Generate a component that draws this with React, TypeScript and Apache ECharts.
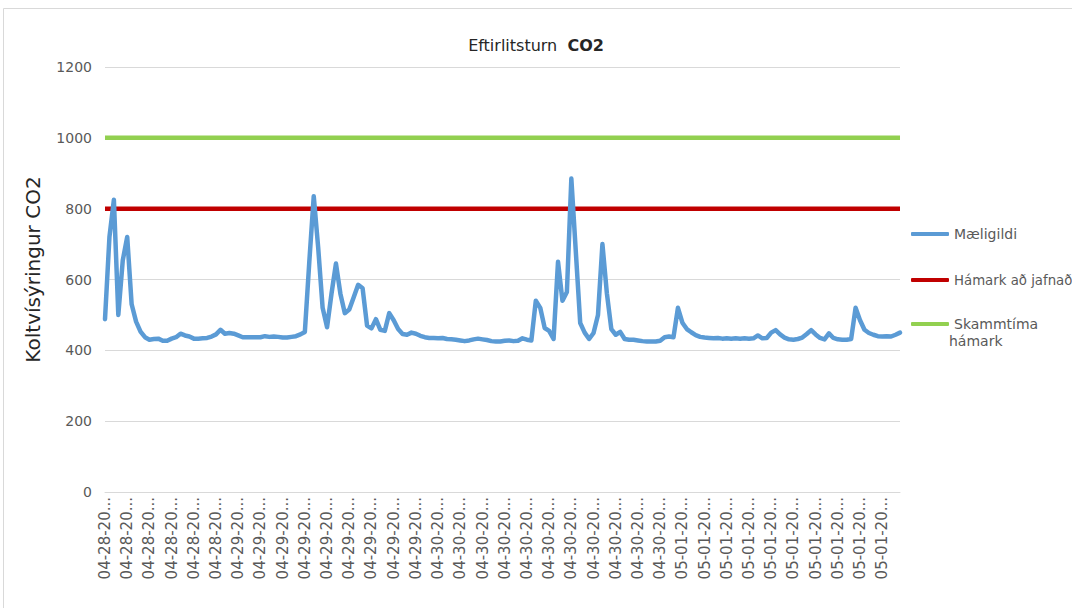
import React, { useEffect, useRef } from "react";
import * as echarts from "echarts";

const tickLabels: string[] = [
  "04-28-20...", "04-28-20...", "04-28-20...", "04-28-20...", "04-28-20...", "04-28-20...",
  "04-29-20...", "04-29-20...", "04-29-20...", "04-29-20...", "04-29-20...", "04-29-20...",
  "04-29-20...", "04-29-20...", "04-29-20...",
  "04-30-20...", "04-30-20...", "04-30-20...", "04-30-20...", "04-30-20...", "04-30-20...",
  "04-30-20...", "04-30-20...", "04-30-20...", "04-30-20...", "04-30-20...",
  "05-01-20...", "05-01-20...", "05-01-20...", "05-01-20...", "05-01-20...", "05-01-20...",
  "05-01-20...", "05-01-20...", "05-01-20...", "05-01-20...",
];
const pointsPerLabel = 5;

const measured: number[] = [
  488, 720, 825, 500, 654, 720, 530, 481, 453, 437,
  430, 432, 433, 427, 427, 433, 437, 447, 442, 439,
  433, 433, 434, 435, 439, 445, 458, 447, 449, 447,
  442, 437, 437, 437, 437, 437, 440, 438, 439, 438,
  436, 436, 438, 440, 445, 452, 650, 835, 690, 520,
  465, 560, 645, 560, 505, 515, 550, 585, 575, 470,
  462, 488, 458, 455, 505, 485, 460, 446, 444, 450,
  447, 441, 437, 435, 435, 434, 435, 432, 431, 430,
  428, 426, 428, 431, 433, 431, 429, 426, 425, 425,
  427, 428, 426, 427, 434, 430, 428, 540, 520, 463,
  455, 432, 650, 540, 565, 885, 680, 477, 450, 432,
  449, 500, 700, 561, 460, 444, 452, 432, 430, 430,
  428, 426, 425, 425, 425, 427, 437, 439, 437, 520,
  478, 460, 451, 443, 438, 436, 435, 434, 435, 433,
  434, 433, 434, 433, 434, 433, 434, 442, 434, 435,
  450, 457, 445, 436, 431, 430, 432, 436, 446, 457,
  445, 435, 431, 448, 435, 431, 430, 430, 432, 520,
  485, 458, 449, 444, 440, 439, 440, 439, 444, 450,
];

const averageLimit = 800;
const shortTermLimit = 1000;

const seriesNames = ["Mæligildi", "Hámark að jafnað", "Skammtíma hámark"];
const yTicks = { min: 0, max: 1200, interval: 200 };

export default function App() {
  const ref = useRef<HTMLDivElement>(null);
  useEffect(() => {
    document.body.style.margin = "0";
    if (!ref.current) return;
    const chart = echarts.init(ref.current, null, { renderer: "svg" });
    const categories = measured.map(
      (_, i) => `${tickLabels[Math.floor(i / pointsPerLabel)]}|${i}`
    );
    const font = "DejaVu Sans";
    const legendBase = {
      orient: "vertical",
      left: 906,
      itemWidth: 38,
      itemHeight: 4,
      icon: "roundRect",
      textStyle: { color: "#595959", fontSize: 14, fontFamily: font, lineHeight: 16 },
      selectedMode: false,
    };
    chart.setOption({
      animation: false,
      backgroundColor: "#ffffff",
      title: {
        left: "center",
        top: 32,
        text: "{n|Eftirlitsturn  }{b|CO2}",
        textStyle: {
          fontWeight: "normal",
          rich: {
            n: { fontFamily: font, fontSize: 16, color: "#262626", fontWeight: "normal" },
            b: { fontFamily: font, fontSize: 16, color: "#262626", fontWeight: "bold" },
          },
        },
      },
      graphic: [
        {
          type: "rect",
          shape: { x: 3.5, y: 8.5, width: 1200, height: 800 },
          style: { fill: "none", stroke: "#D9D9D9", lineWidth: 1 },
          silent: true,
        },
        {
          type: "text",
          left: 949,
          top: 334,
          style: { text: "hámark", fill: "#595959", fontSize: 14, fontFamily: font },
        },
      ],
      legend: [
        { ...legendBase, top: 221, data: [seriesNames[0]] },
        {
          ...legendBase,
          top: 267,
          data: [seriesNames[1]],
          textStyle: { ...legendBase.textStyle, fontSize: 13.3 },
        },
        {
          ...legendBase,
          top: 311,
          data: [seriesNames[2]],
          formatter: () => "Skammtíma",
        },
      ],
      grid: { left: 105, right: 172, top: 67, bottom: 116, containLabel: false },
      xAxis: {
        type: "category",
        boundaryGap: false,
        data: categories,
        axisLine: { lineStyle: { color: "#D9D9D9", width: 1 } },
        axisTick: { show: false },
        axisLabel: {
          interval: pointsPerLabel - 1,
          rotate: 90,
          margin: 5,
          color: "#595959",
          fontSize: 15,
          fontFamily: font,
          formatter: (v: string) => v.split("|")[0],
        },
        splitLine: { show: false },
      },
      yAxis: {
        type: "value",
        min: yTicks.min,
        max: yTicks.max,
        interval: yTicks.interval,
        name: "Koltvísýringur CO2",
        nameLocation: "middle",
        nameGap: 62,
        nameTextStyle: {
          color: "#262626",
          fontSize: 20,
          fontFamily: font,
          padding: [0, 0, 0, 20],
        },
        axisLine: { show: false },
        axisTick: { show: false },
        axisLabel: {
          color: "#595959",
          fontSize: 14,
          fontFamily: font,
          margin: 13,
          formatter: (v: number) => String(v),
        },
        splitLine: { lineStyle: { color: "#D9D9D9", width: 1 } },
      },
      series: [
        {
          name: seriesNames[0],
          type: "line",
          data: measured,
          symbol: "none",
          color: "#5B9BD5",
          lineStyle: { color: "#5B9BD5", width: 4.5, join: "round", cap: "round" },
          z: 3,
        },
        {
          name: seriesNames[1],
          type: "line",
          data: measured.map(() => averageLimit),
          symbol: "none",
          color: "#C00000",
          lineStyle: { color: "#C00000", width: 4.5 },
          z: 2,
        },
        {
          name: seriesNames[2],
          type: "line",
          data: measured.map(() => shortTermLimit),
          symbol: "none",
          color: "#92D050",
          lineStyle: { color: "#92D050", width: 4.5 },
          z: 2,
        },
      ],
    });
    return () => chart.dispose();
  }, []);
  return <div ref={ref} style={{ width: 1072, height: 608 }} />;
}
